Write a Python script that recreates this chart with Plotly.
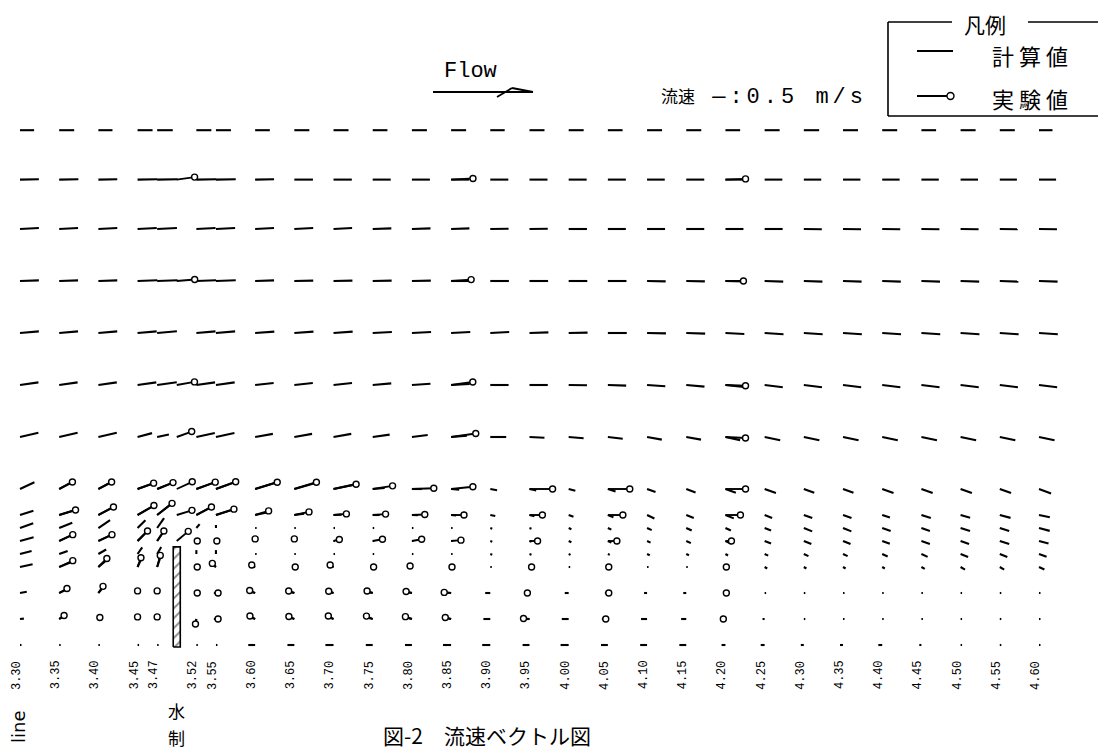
import math
import plotly.graph_objects as go

# ---------------- data ----------------
# measurement columns (m); the two columns beside the weir sit half-way (labels truncated)
X_COLS = [3.30, 3.35, 3.40, 3.45, 3.475, 3.525, 3.55, 3.60, 3.65, 3.70, 3.75, 3.80, 3.85, 3.90,
          3.95, 4.00, 4.05, 4.10, 4.15, 4.20, 4.25, 4.30, 4.35, 4.40, 4.45, 4.50, 4.55, 4.60]
TICK_LABELS = ["3.30", "3.35", "3.40", "3.45", "3.47", "3.52", "3.55", "3.60", "3.65", "3.70",
               "3.75", "3.80", "3.85", "3.90", "3.95", "4.00", "4.05", "4.10", "4.15", "4.20",
               "4.25", "4.30", "4.35", "4.40", "4.45", "4.50", "4.55", "4.60"]

# heights of the computed rows (cm)
Y_ROWS = [40.6, 36.8, 33, 29, 25, 21, 17, 13, 11, 10, 9, 8, 7, 5, 3, 1]

# computed velocity (計算値): speed m/s and direction deg, one pair per row
SPD_Y40_6 = [0.47, 0.50, 0.47, 0.50, 0.52, 0.50, 0.50, 0.49, 0.50, 0.50, 0.49, 0.50, 0.50, 0.48,
             0.50, 0.50, 0.49, 0.50, 0.50, 0.49, 0.50, 0.51, 0.50, 0.50, 0.49, 0.50, 0.50, 0.45]
ANG_Y40_6 = [0, 0, 0, 0, 0, 0, 0, 0, 0, 0, 0, 0, 0, 0, 0, 0, 0, 0, 0, 0, 0, 0, 0, 0, 0, 0, 0, 0]

SPD_Y36_8 = [0.63, 0.64, 0.63, 0.66, 0.68, 0.66, 0.66, 0.63, 0.62, 0.61, 0.60, 0.60, 0.60, 0.60,
             0.60, 0.60, 0.60, 0.59, 0.60, 0.60, 0.59, 0.58, 0.58, 0.58, 0.58, 0.58, 0.57, 0.57]
ANG_Y36_8 = [1, 1, 1, 1, 1, 1, 1, 1, 0, 0, 0, 0, 0, 0, 0, 0, 0, 0, 0, 0, 0, 0, 0, 0, 0, 0, 0, 0]

SPD_Y33 = [0.63, 0.63, 0.63, 0.64, 0.66, 0.64, 0.64, 0.63, 0.63, 0.62, 0.62, 0.62, 0.61, 0.61,
           0.61, 0.61, 0.60, 0.60, 0.60, 0.60, 0.60, 0.60, 0.60, 0.60, 0.60, 0.60, 0.60, 0.60]
ANG_Y33 = [3, 3, 3, 3, 3, 3, 3, 3, 3, 3, 2, 2, 2, 1, 1, 0, 0, 0, 0, 0, 0, -1, -1, -1, -1, -1, -1, -1]

SPD_Y29 = [0.63, 0.63, 0.63, 0.66, 0.68, 0.66, 0.66, 0.63, 0.63, 0.63, 0.63, 0.63, 0.63, 0.62,
           0.62, 0.62, 0.62, 0.62, 0.62, 0.62, 0.62, 0.62, 0.62, 0.62, 0.62, 0.62, 0.62, 0.62]
ANG_Y29 = [2, 2, 2, 2, 2, 2, 2, 2, 1, 1, 1, 1, 0, 0, 0, 0, 0, -1, -1, -1, -2, -2, -2, -2, -2, -2, -2, -2]

SPD_Y25 = [0.63, 0.63, 0.63, 0.64, 0.66, 0.64, 0.64, 0.64, 0.64, 0.64, 0.64, 0.64, 0.64, 0.63,
           0.63, 0.63, 0.63, 0.63, 0.63, 0.63, 0.63, 0.63, 0.63, 0.63, 0.63, 0.63, 0.63, 0.63]
ANG_Y25 = [5, 5, 5, 5, 5, 5, 5, 4, 4, 4, 3, 3, 3, 3, 2, 1, 0, -1, -2, -3, -4, -4, -4, -4, -4, -4, -4, -4]

SPD_Y21 = [0.62, 0.62, 0.62, 0.63, 0.66, 0.63, 0.63, 0.62, 0.62, 0.62, 0.62, 0.62, 0.62, 0.61,
           0.61, 0.61, 0.61, 0.61, 0.61, 0.61, 0.61, 0.61, 0.61, 0.61, 0.61, 0.61, 0.61, 0.61]
ANG_Y21 = [8, 8, 8, 8, 8, 8, 8, 6, 6, 6, 5, 4, 3, 0, 0, -1, -2, -4, -5, -6, -7, -7, -7, -7, -7, -7, -7, -7]

SPD_Y17 = [0.63, 0.63, 0.63, 0.50, 0.40, 0.63, 0.63, 0.60, 0.60, 0.60, 0.57, 0.53, 0.53, 0.53,
           0.50, 0.50, 0.50, 0.50, 0.50, 0.50, 0.53, 0.53, 0.53, 0.53, 0.53, 0.53, 0.53, 0.53]
ANG_Y17 = [13, 13, 13, 15, 12, 12, 12, 10, 10, 10, 8, 7, 5, 0, -3, -5, -7, -10, -10, -12,
           -12, -12, -12, -12, -12, -12, -12, -12]

SPD_Y13 = [0.53, 0.50, 0.50, 0.57, 0.57, 0.67, 0.70, 0.73, 0.73, 0.70, 0.40, 0.33, 0.27, 0.23,
           0.23, 0.23, 0.27, 0.30, 0.33, 0.37, 0.40, 0.37, 0.37, 0.40, 0.40, 0.40, 0.40, 0.43]
ANG_Y13 = [25, 28, 28, 20, 22, 20, 20, 17, 16, 12, 5, 0, -5, -10, -12, -15, -18, -20, -20, -20,
           -20, -20, -20, -20, -20, -20, -20, -20]

SPD_Y11 = [0.47, 0.53, 0.57, 0.63, 0.63, 0.57, 0.63, 0.40, 0.33, 0.27, 0.23, 0.20, 0.17, 0.17,
           0.17, 0.17, 0.20, 0.27, 0.27, 0.30, 0.27, 0.30, 0.30, 0.27, 0.33, 0.33, 0.37, 0.37]
ANG_Y11 = [18, 17, 28, 30, 38, 28, 18, 12, 8, 3, 0, -3, -6, -12, -15, -20, -22, -25, -22, -22,
           -22, -20, -20, -18, -18, -16, -15, -12]

SPD_Y10 = [0.47, 0.47, 0.47, 0.37, 0.40, 0.17, 0.10, 0.05, 0.05, 0.05, 0.05, 0.05, 0.05, 0.07,
           0.07, 0.10, 0.13, 0.17, 0.20, 0.20, 0.23, 0.30, 0.30, 0.30, 0.30, 0.33, 0.33, 0.37]
ANG_Y10 = [20, 22, 34, 45, 55, 50, 90, 0, 0, 0, 0, 0, 0, -20, -20, -25, -25, -25, -25, -25,
           -22, -22, -22, -20, -20, -18, -18, -15]

SPD_Y9 = [0.47, 0.50, 0.50, 0.47, 0.40, 0.05, 0.05, 0.05, 0.05, 0.05, 0.05, 0.05, 0.05, 0.07,
          0.07, 0.10, 0.13, 0.13, 0.17, 0.20, 0.23, 0.27, 0.27, 0.27, 0.30, 0.30, 0.33, 0.33]
ANG_Y9 = [15, 25, 25, 45, 56, 90, 90, 0, 0, 0, 0, 0, 0, -20, -20, -25, -25, -25, -25, -25,
          -22, -22, -22, -20, -20, -20, -18, -15]

SPD_Y8 = [0.40, 0.30, 0.30, 0.27, 0.27, 0.13, 0.13, 0.05, 0.05, 0.05, 0.05, 0.05, 0.05, 0.07,
          0.07, 0.07, 0.07, 0.10, 0.10, 0.10, 0.13, 0.17, 0.17, 0.20, 0.23, 0.27, 0.27, 0.27]
ANG_Y8 = [15, 20, 30, 55, 60, 90, 90, 0, 0, 0, 0, 0, 0, -20, -20, -25, -25, -25, -25, -30,
          -25, -25, -25, -25, -25, -22, -22, -20]

SPD_Y7 = [0.43, 0.40, 0.33, 0.30, 0.33, 0.05, 0.07, 0.05, 0.05, 0.05, 0.05, 0.05, 0.05, 0.05,
          0.05, 0.05, 0.05, 0.05, 0.05, 0.05, 0.10, 0.10, 0.10, 0.10, 0.13, 0.17, 0.17, 0.20]
ANG_Y7 = [12, 22, 40, 65, 72, 0, 150, 180, 180, 180, 180, 180, 180, 0, 0, 0, 0, 0, 0, 0,
          -30, -30, -30, -30, -30, -30, -30, -25]

SPD_Y5 = [0.23, 0.27, 0.23, 0.07, 0.07, 0.05, 0.07, 0.17, 0.17, 0.17, 0.17, 0.17, 0.20, 0.17,
          0.13, 0.13, 0.10, 0.10, 0.10, 0.07, 0.05, 0.05, 0.05, 0.05, 0.05, 0.05, 0.05, 0.05]
ANG_Y5 = [10, 25, 50, 90, 90, 0, 180, 165, 165, 165, 170, 170, 175, 180, 180, 180, 180, 180,
          180, 180, 0, 0, 0, 0, 0, 0, 0, 0]

SPD_Y3 = [0.13, 0.17, 0.07, 0.07, 0.07, 0.10, 0.07, 0.20, 0.20, 0.20, 0.20, 0.20, 0.20, 0.23,
          0.23, 0.23, 0.20, 0.20, 0.17, 0.10, 0.07, 0.05, 0.05, 0.05, 0.05, 0.05, 0.05, 0.05]
ANG_Y3 = [5, 30, 45, 90, 90, -100, 180, 160, 160, 160, 165, 165, 170, 180, 180, 180, 180, 180,
          180, 180, 180, 0, 0, 0, 0, 0, 0, 0]

SPD_Y1 = [0.05, 0.05, 0.05, 0.05, 0.05, 0.05, 0.05, 0.23, 0.23, 0.27, 0.23, 0.23, 0.27, 0.27,
          0.23, 0.27, 0.23, 0.23, 0.23, 0.13, 0.13, 0.10, 0.10, 0.13, 0.07, 0.05, 0.05, 0.05]
ANG_Y1 = [0, 0, 0, 0, 0, 0, 0, 180, 180, 180, 180, 180, 180, 180, 180, 180, 180, 180, 180, 180,
          180, 180, 180, 180, 180, 0, 0, 0]

# experimental velocity (実験値)
EXP_X = [3.50, 3.85, 4.20,
         3.50, 3.85, 4.20,
         3.50, 3.85, 4.20,
         3.50, 3.85, 4.20,
         3.35, 3.40, 3.45, 3.475, 3.50, 3.525, 3.55, 3.60, 3.65, 3.70, 3.75, 3.80, 3.85, 3.95, 4.05, 4.20,
         3.35, 3.40, 3.45, 3.475, 3.50, 3.525, 3.55, 3.60, 3.65, 3.70, 3.75, 3.80, 3.85, 3.95, 4.05, 4.20,
         3.35, 3.40, 3.45, 3.475, 3.50, 3.525, 3.55, 3.60, 3.65, 3.70, 3.75, 3.80, 3.85, 3.95, 4.05, 4.20,
         3.35, 3.40, 3.45, 3.475, 3.525, 3.55, 3.60, 3.65, 3.70, 3.75, 3.80, 3.85, 3.95, 4.05, 4.20,
         3.35, 3.40, 3.45, 3.475, 3.525, 3.55, 3.60, 3.65, 3.70, 3.75, 3.80, 3.85, 3.95, 4.05, 4.20,
         3.35, 3.40, 3.45, 3.475, 3.525, 3.55, 3.60, 3.65, 3.70, 3.75, 3.80, 3.85, 3.95, 4.05, 4.20]
EXP_Y = [36.8, 36.8, 36.8,
         29, 29, 29,
         21, 21, 21,
         17, 17, 17,
         13, 13, 13, 13, 13, 13, 13, 13, 13, 13, 13, 13, 13, 13, 13, 13,
         11, 11, 11, 11, 11, 11, 11, 11, 11, 11, 11, 11, 11, 11, 11, 11,
         9, 9, 9, 9, 9, 9, 9, 9, 9, 9, 9, 9, 9, 9, 9, 9,
         7, 7, 7, 7, 7, 7, 7, 7, 7, 7, 7, 7, 7, 7, 7,
         5, 5, 5, 5, 5, 5, 5, 5, 5, 5, 5, 5, 5, 5, 5,
         3, 3, 3, 3, 3, 3, 3, 3, 3, 3, 3, 3, 3, 3, 3]
EXP_SPEED = [0.60, 0.73, 0.67,
             0.60, 0.67, 0.60,
             0.60, 0.73, 0.67,
             0.53, 0.83, 0.67,
             0.50, 0.50, 0.57, 0.57, 0.57, 0.67, 0.70, 0.77, 0.77, 0.77, 0.67, 0.73, 0.73, 0.77, 0.73, 0.67,
             0.57, 0.57, 0.63, 0.63, 0.53, 0.57, 0.63, 0.47, 0.50, 0.43, 0.43, 0.43, 0.43, 0.43, 0.50, 0.50,
             0.50, 0.50, 0.47, 0.40, 0.50, 0.03, 0.03, 0.07, 0.07, 0.20, 0.33, 0.33, 0.33, 0.27, 0.30, 0.20,
             0.50, 0.40, 0.33, 0.40, 0.03, 0.17, 0.13, 0.03, 0.13, 0.03, 0.07, 0.03, 0.07, 0.03, 0.03,
             0.30, 0.27, 0.07, 0.07, 0.03, 0.07, 0.20, 0.20, 0.17, 0.20, 0.20, 0.23, 0.07, 0.03, 0.03,
             0.20, 0.07, 0.07, 0.07, 0.17, 0.07, 0.20, 0.20, 0.20, 0.23, 0.23, 0.20, 0.20, 0.07, 0.07]
EXP_ANGLE = [8, 3, 2,
             5, 4, 0,
             10, 8, -2,
             20, 8, -3,
             28, 28, 20, 22, 25, 20, 20, 17, 17, 12, 9, 2, 6, 0, 0, 0,
             17, 28, 30, 38, 17, 28, 18, 17, 12, 5, 4, 2, 0, 0, 0, 0,
             25, 25, 45, 56, 40, 0, 0, 90, 90, 15, 10, 10, 5, 0, 0, 0,
             25, 45, 70, 75, 0, 135, 150, 0, 150, 0, 150, 0, 0, 0, 0,
             30, 55, 90, 90, 0, 0, 155, 160, 160, 160, 165, 175, 180, 0, 0,
             35, 45, 90, 90, -100, 0, 150, 155, 150, 155, 160, 165, 175, 180, 180]

# weir (水制)
WEIR_X = 3.50
WEIR_WIDTH = 0.009
WEIR_BOTTOM = 0.85
WEIR_TOP = 8.55

# ---------------- geometry ----------------
W, H = 1098, 752
X_RANGE = [3.2745, 4.6753]
Y_RANGE = [-7.23, 50.615]
PX_PER_X = W / (X_RANGE[1] - X_RANGE[0])
PX_PER_Y = H / (Y_RANGE[1] - Y_RANGE[0])
VEL_SCALE_PX = 30.0   # 0.5 m/s -> 15 px


def tip(x0, y0, spd, ang):
    L = spd * VEL_SCALE_PX
    a = math.radians(ang)
    return x0 + L * math.cos(a) / PX_PER_X, y0 + L * math.sin(a) / PX_PER_Y


CALC_ROWS = [
    (Y_ROWS[0], SPD_Y40_6, ANG_Y40_6), (Y_ROWS[1], SPD_Y36_8, ANG_Y36_8),
    (Y_ROWS[2], SPD_Y33, ANG_Y33), (Y_ROWS[3], SPD_Y29, ANG_Y29),
    (Y_ROWS[4], SPD_Y25, ANG_Y25), (Y_ROWS[5], SPD_Y21, ANG_Y21),
    (Y_ROWS[6], SPD_Y17, ANG_Y17), (Y_ROWS[7], SPD_Y13, ANG_Y13),
    (Y_ROWS[8], SPD_Y11, ANG_Y11), (Y_ROWS[9], SPD_Y10, ANG_Y10),
    (Y_ROWS[10], SPD_Y9, ANG_Y9), (Y_ROWS[11], SPD_Y8, ANG_Y8),
    (Y_ROWS[12], SPD_Y7, ANG_Y7), (Y_ROWS[13], SPD_Y5, ANG_Y5),
    (Y_ROWS[14], SPD_Y3, ANG_Y3), (Y_ROWS[15], SPD_Y1, ANG_Y1),
]

cx, cy = [], []
for yrow, spds, angs in CALC_ROWS:
    for x0, s, a in zip(X_COLS, spds, angs):
        x1, y1 = tip(x0, yrow, s, a)
        cx += [x0, x1, None]
        cy += [yrow, y1, None]

ex, ey, tx, ty = [], [], [], []
for x0, y0, s, a in zip(EXP_X, EXP_Y, EXP_SPEED, EXP_ANGLE):
    x1, y1 = tip(x0, y0, s, a)
    ex += [x0, x1, None]
    ey += [y0, y1, None]
    tx.append(x1)
    ty.append(y1)

fig = go.Figure()

# weir
wx0, wx1 = WEIR_X - WEIR_WIDTH / 2, WEIR_X + WEIR_WIDTH / 2
fig.add_trace(go.Scatter(
    x=[wx0, wx1, wx1, wx0, wx0], y=[WEIR_BOTTOM, WEIR_BOTTOM, WEIR_TOP, WEIR_TOP, WEIR_BOTTOM],
    mode="lines", fill="toself", fillcolor="white",
    fillpattern=dict(shape="/", size=7, solidity=0.25, fgcolor="black", bgcolor="white"),
    line=dict(color="black", width=1.6), hoverinfo="skip", name="水制"))

fig.add_trace(go.Scatter(x=cx, y=cy, mode="lines", line=dict(color="black", width=2.1),
                         name="計算値", hoverinfo="skip"))
fig.add_trace(go.Scatter(x=ex, y=ey, mode="lines", line=dict(color="black", width=1.9),
                         name="実験値", hoverinfo="skip"))
fig.add_trace(go.Scatter(x=tx, y=ty, mode="markers",
                         marker=dict(symbol="circle", size=6, color="white",
                                     line=dict(color="black", width=1.4)),
                         name="実験値", hoverinfo="skip"))


def px(x):
    return x / W


def py(y):
    return 1 - y / H


CJK = "Noto Sans CJK JP"
annotations = []
# tick labels
for xv, lab in zip(X_COLS, TICK_LABELS):
    annotations.append(dict(x=xv, y=-1.31, xref="x", yref="y", text=lab, textangle=-90,
                            showarrow=False, xshift=-3, xanchor="center", yanchor="middle",
                            font=dict(family="Liberation Mono", size=12, color="black")))


def note(x, y, text, family, size, xanchor="center", angle=0):
    return dict(x=px(x), y=py(y), xref="paper", yref="paper", text=text, textangle=angle,
                showarrow=False, xanchor=xanchor, yanchor="middle", borderpad=0,
                font=dict(family=family, size=size, color="black"))


annotations += [
    note(18, 727, "line", "DejaVu Sans", 18, angle=-90),
    note(176, 710, "水", CJK, 17),
    note(176, 737, "制", CJK, 17),
    note(487, 735, "図-2　流速ベクトル図", CJK, 21),
    note(470, 71, "Flow", "Liberation Mono", 22),
    note(660, 97, '<span style="font-family:Noto Sans CJK JP;font-size:17px">流速</span>'
                  '<span style="letter-spacing:4px"> —:0.5 m/s</span>',
         "Liberation Mono", 22, xanchor="left"),
    note(985, 24, "凡例", CJK, 21),
    note(1032, 55, '<span style="letter-spacing:5px">計算値</span>', CJK, 22),
    note(1032, 98, '<span style="letter-spacing:5px">実験値</span>', CJK, 22),
]

LINE = dict(color="black", width=1.6)
shapes = []
# legend frame
for (x0, y0, x1, y1) in [(888, 22, 888, 116), (888, 116, 1098, 116),
                         (888, 22, 952, 22), (1028, 22, 1098, 22)]:
    shapes.append(dict(type="line", xref="paper", yref="paper", x0=px(x0), y0=py(y0),
                       x1=px(x1), y1=py(y1), line=LINE))
# legend samples
shapes.append(dict(type="line", xref="paper", yref="paper", x0=px(917), y0=py(51),
                   x1=px(953), y1=py(51), line=dict(color="black", width=2)))
shapes.append(dict(type="line", xref="paper", yref="paper", x0=px(917), y0=py(96),
                   x1=px(947), y1=py(96), line=dict(color="black", width=2)))
shapes.append(dict(type="circle", xref="paper", yref="paper", x0=px(947), y0=py(99.5),
                   x1=px(954), y1=py(92.5), line=dict(color="black", width=1.4), fillcolor="white"))
# flow arrow
for (x0, y0, x1, y1) in [(433, 92, 533, 92), (497, 97, 512, 88), (512, 88, 533, 92)]:
    shapes.append(dict(type="line", xref="paper", yref="paper", x0=px(x0), y0=py(y0),
                       x1=px(x1), y1=py(y1), line=dict(color="black", width=1.8)))

fig.update_layout(
    width=W, height=H, autosize=False,
    margin=dict(l=0, r=0, t=0, b=0),
    paper_bgcolor="white", plot_bgcolor="white",
    showlegend=False,
    xaxis=dict(range=X_RANGE, visible=False, fixedrange=True),
    yaxis=dict(range=Y_RANGE, visible=False, fixedrange=True),
    annotations=annotations, shapes=shapes,
)

fig.write_html("out.html", config={"displayModeBar": False},
               post_script="document.body.style.margin='0';")
